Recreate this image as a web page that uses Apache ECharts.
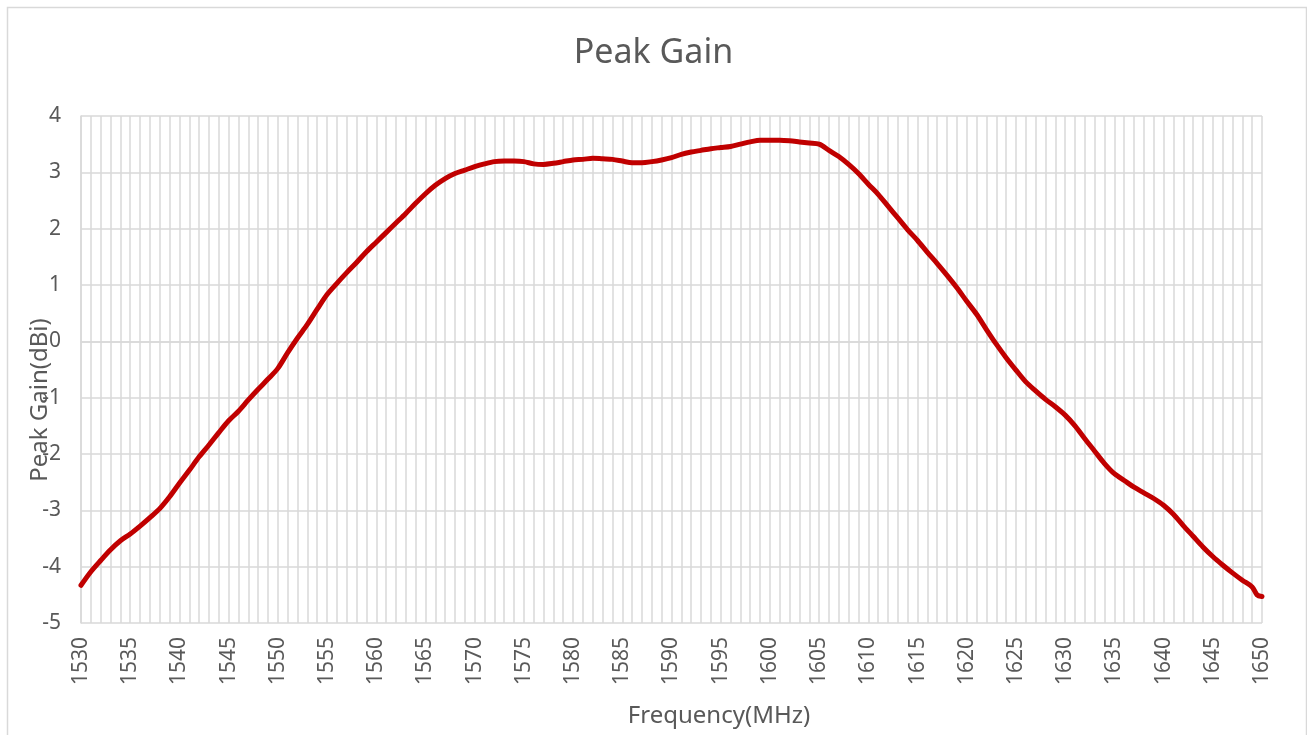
<!DOCTYPE html>
<html>
<head>
<meta charset="utf-8">
<script src="https://cdn.jsdelivr.net/npm/echarts@6/dist/echarts.min.js"></script>
<style>
html,body{margin:0;padding:0;background:#fff;}
#chart{width:1307px;height:735px;}
</style>
</head>
<body>
<div id="chart"></div>
<script>
var chartTitle = 'Peak Gain';
var xAxisTitle = 'Frequency(MHz)';
var yAxisTitle = 'Peak Gain(dBi)';

var frequencies = [
  1530,1531,1532,1533,1534,1535,1536,1537,1538,1539,
  1540,1541,1542,1543,1544,1545,1546,1547,1548,1549,
  1550,1551,1552,1553,1554,1555,1556,1557,1558,1559,
  1560,1561,1562,1563,1564,1565,1566,1567,1568,1569,
  1570,1571,1572,1573,1574,1575,1576,1577,1578,1579,
  1580,1581,1582,1583,1584,1585,1586,1587,1588,1589,
  1590,1591,1592,1593,1594,1595,1596,1597,1598,1599,
  1600,1601,1602,1603,1604,1605,1606,1607,1608,1609,
  1610,1611,1612,1613,1614,1615,1616,1617,1618,1619,
  1620,1621,1622,1623,1624,1625,1626,1627,1628,1629,
  1630,1631,1632,1633,1634,1635,1636,1637,1638,1639,
  1640,1641,1642,1643,1644,1645,1646,1647,1648,1649,
  1649.5,1650
];

var peakGain = [
  -4.33,-4.09,-3.89,-3.70,-3.54,-3.42,-3.28,-3.13,-2.97,-2.76,
  -2.52,-2.29,-2.05,-1.84,-1.62,-1.41,-1.24,-1.04,-0.85,-0.67,
  -0.48,-0.20,0.06,0.30,0.57,0.83,1.03,1.22,1.40,1.59,
  1.76,1.93,2.10,2.27,2.45,2.62,2.77,2.89,2.98,3.04,
  3.10,3.15,3.19,3.20,3.20,3.19,3.15,3.14,3.16,3.19,
  3.22,3.23,3.25,3.24,3.23,3.20,3.17,3.17,3.19,3.22,
  3.26,3.32,3.36,3.39,3.42,3.44,3.46,3.50,3.54,3.57,
  3.57,3.57,3.56,3.54,3.52,3.50,3.39,3.28,3.14,2.98,
  2.79,2.61,2.40,2.19,1.98,1.79,1.58,1.38,1.17,0.95,
  0.71,0.48,0.21,-0.05,-0.29,-0.51,-0.72,-0.88,-1.03,-1.16,
  -1.31,-1.50,-1.73,-1.95,-2.17,-2.35,-2.47,-2.59,-2.69,-2.79,
  -2.91,-3.07,-3.27,-3.46,-3.65,-3.82,-3.97,-4.11,-4.24,-4.36,
  -4.50,-4.53
];

var seriesData = frequencies.map(function (f, i) { return [f, peakGain[i]]; });

var FONT = '"Noto Sans", "Open Sans", sans-serif';
var TEXT = '#595959';
var GRID = '#d9d9d9';

var chart = echarts.init(document.getElementById('chart'), null, {renderer: 'canvas'});
chart.setOption({
  animation: false,
  backgroundColor: '#ffffff',
  title: {
    text: chartTitle,
    left: 'center',
    top: 31,
    textStyle: {fontFamily: FONT, fontSize: 34, fontWeight: 'normal', color: TEXT}
  },
  graphic: [
    {
      type: 'rect', left: 5, top: 5, silent: true, z: -10,
      shape: {x: 0, y: 0, width: 1299, height: 740},
      style: {fill: 'none', stroke: GRID, lineWidth: 1.5}
    },
    {
      type: 'text', x: 719, y: 716, silent: true,
      style: {text: xAxisTitle, fontFamily: FONT, fontSize: 24, fill: TEXT,
              align: 'center', verticalAlign: 'middle'}
    },
    {
      type: 'text', x: 40, y: 400, rotation: Math.PI / 2, silent: true,
      style: {text: yAxisTitle, fontFamily: FONT, fontSize: 24, fill: TEXT,
              align: 'center', verticalAlign: 'middle'}
    }
  ],
  grid: {left: 81, right: 45, top: 116, bottom: 112, containLabel: false},
  xAxis: {
    type: 'value',
    min: 1530,
    max: 1650,
    interval: 5,
    axisLine: {show: true, lineStyle: {color: GRID, width: 1.5}},
    axisTick: {show: false},
    minorTick: {show: false, splitNumber: 5},
    splitLine: {show: true, lineStyle: {color: GRID, width: 1.5}},
    minorSplitLine: {show: true, lineStyle: {color: GRID, width: 1.5}},
    axisLabel: {rotate: 90, margin: 14, fontFamily: FONT, fontSize: 21, color: TEXT,
                formatter: function (v) { return String(v); }}
  },
  yAxis: {
    type: 'value',
    min: -5,
    max: 4,
    interval: 1,
    axisLine: {show: true, lineStyle: {color: GRID, width: 1.5}},
    axisTick: {show: false},
    splitLine: {show: true, lineStyle: {color: GRID, width: 1.5}},
    axisLabel: {margin: 20, fontFamily: FONT, fontSize: 21, color: TEXT,
                formatter: function (v) { return String(v); }}
  },
  series: [{
    type: 'line',
    data: seriesData,
    smooth: 0.3,
    showSymbol: false,
    symbol: 'none',
    lineStyle: {color: '#c00000', width: 5, cap: 'round', join: 'round'},
    z: 5
  }]
});
</script>
</body>
</html>
